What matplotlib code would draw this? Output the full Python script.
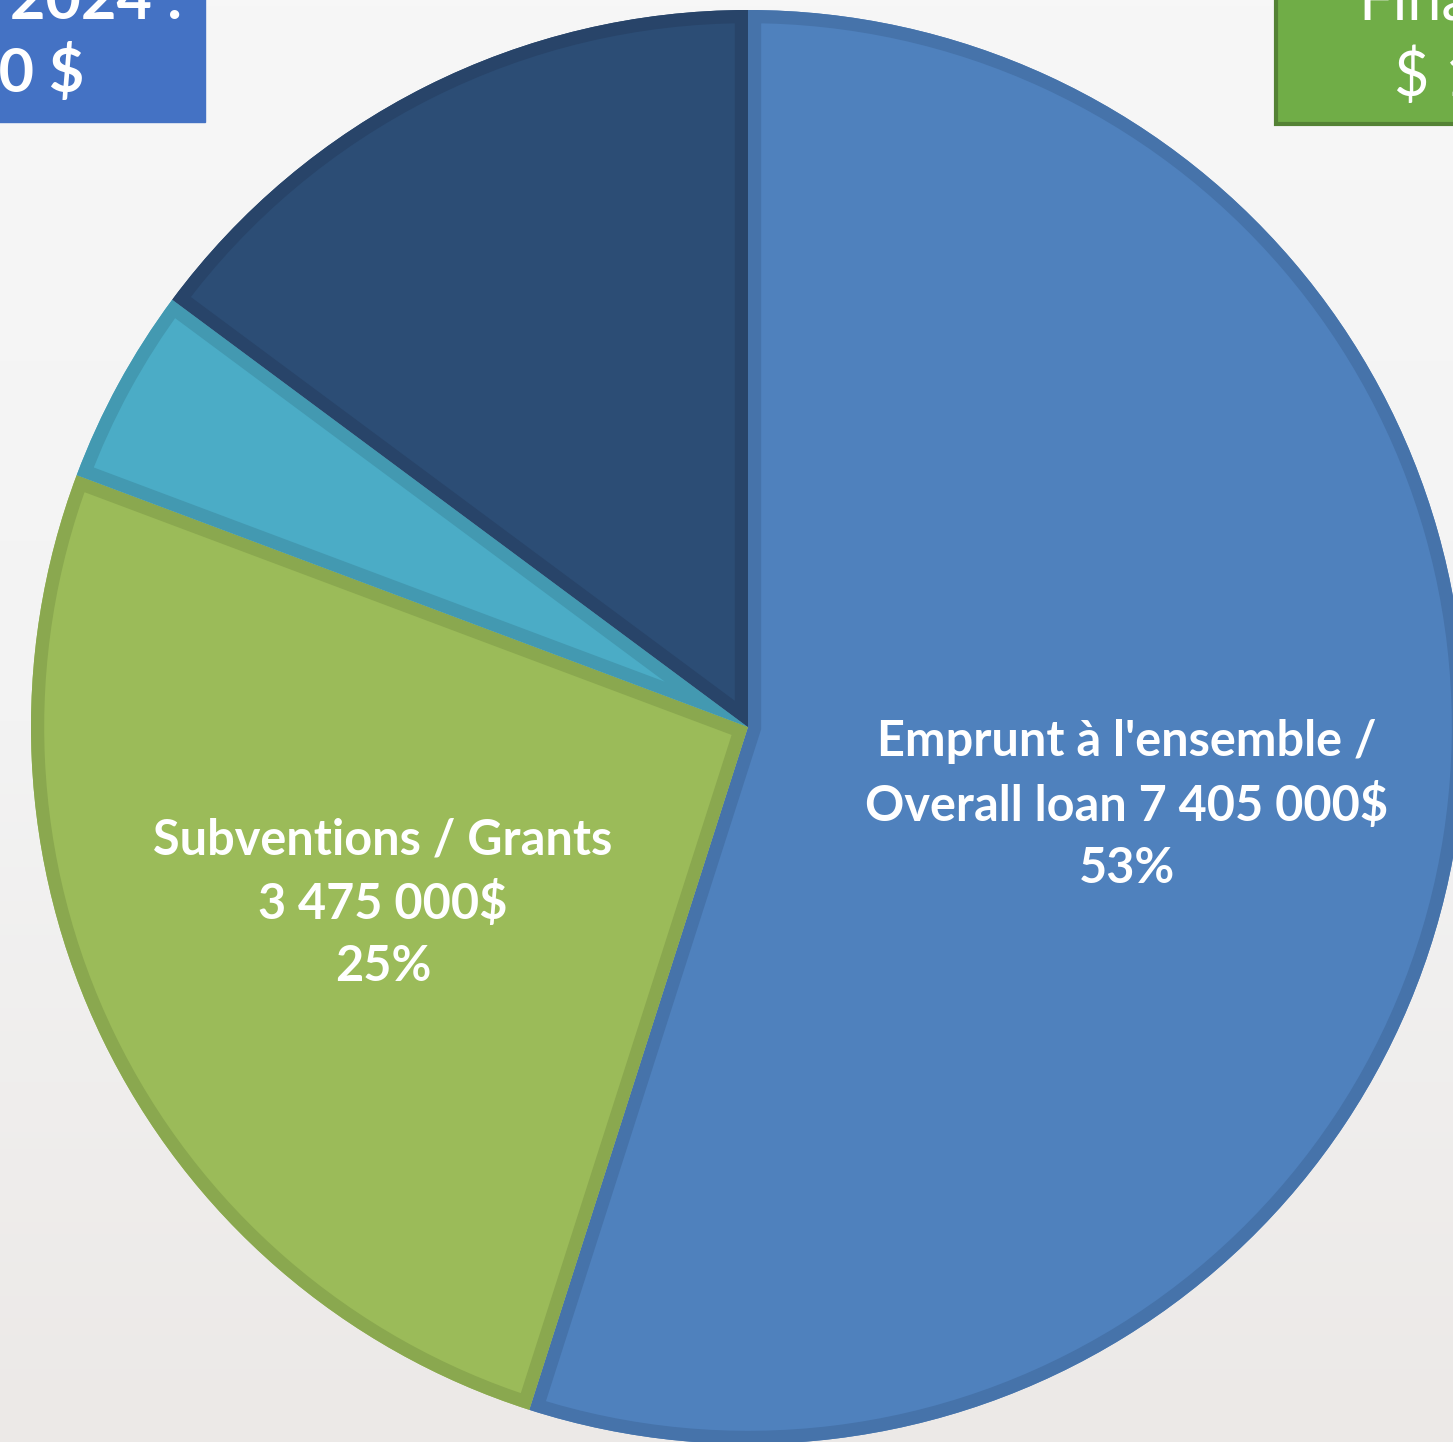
import matplotlib.pyplot as plt
import numpy as np
from matplotlib.colors import LinearSegmentedColormap

sources = ["Emprunt à l'ensemble / Overall loan", "Subventions / Grants", "Autres", "Mise de fonds"]
amounts = [7405000, 3475000, 600000, 2000000]
colors = ['#4f81bd', '#9bbb59', '#4bacc6', '#2c4d75']
edge_colors = ['#4673aa', '#8aa84f', '#4399b1', '#284469']
labels = ["Emprunt à l'ensemble /\nOverall loan 7 405 000$\n53%",
          "Subventions / Grants\n3 475 000$\n25%"]

W, H = 1453, 1442
fig = plt.figure(figsize=(W / 100, H / 100), dpi=100)
ax = fig.add_axes([0, 0, 1, 1])

# faint light background, a bit darker at the bottom
grad = np.linspace(0, 1, 256).reshape(-1, 1)
bg = LinearSegmentedColormap.from_list('bg', ['#ece9e7', '#f3f3f3', '#f7f7f7'])
ax.imshow(grad, extent=(0, W, 0, H), cmap=bg, aspect='auto', origin='lower', zorder=0)

cx, cy, r = 748, H - 727, 717
wedges, _ = ax.pie(amounts, colors=colors, startangle=90, counterclock=False,
                   center=(cx, cy), radius=r, explode=[0.013, 0, 0, 0], frame=True,
                   wedgeprops=dict(linewidth=0, zorder=2))
# darker inner border on each slice
for w, ec in zip(wedges, edge_colors):
    border = plt.matplotlib.patches.PathPatch(w.get_path(), transform=w.get_transform(),
                                              facecolor='none', edgecolor=ec,
                                              linewidth=19, joinstyle='miter', zorder=3)
    ax.add_patch(border)
    border.set_clip_path(w.get_path(), w.get_transform())

txt = dict(color='white', fontweight='bold', family='Lato', fontsize=35,
           ha='center', va='center', linespacing=1.45, zorder=5)
ax.text(1127, H - 805, labels[0], **txt)
ax.text(383, H - 903, labels[1], **txt)

# title boxes, cut by the picture edge
ax.add_patch(plt.Rectangle((-300, H - 122), 505, 300, facecolor='#4472c4',
                           edgecolor='#4472c4', zorder=3))
ax.text(182, H - 18, "Coût du projet 2024 :", color='white', fontweight='bold',
        family='Lato', fontsize=44, ha='right', va='baseline', zorder=6)
ax.text(84, H - 92, "13 480 000 $", color='white', fontweight='bold',
        family='Lato', fontsize=44, ha='right', va='baseline', zorder=6)

ax.add_patch(plt.Rectangle((1276, H - 124), 400, 300, facecolor='#70ad47',
                           edgecolor='#548235', linewidth=3, zorder=3))
ax.text(1358, H - 20, "Financement", color='white', family='Lato',
        fontsize=44, ha='left', va='baseline', zorder=6)
ax.text(1394, H - 96, "$ 13 480 000", color='white', family='Lato',
        fontsize=44, ha='left', va='baseline', zorder=6)

ax.set_xlim(0, W)
ax.set_ylim(0, H)
ax.set_aspect('auto')
ax.axis('off')

fig.savefig('out.png', dpi=100)
